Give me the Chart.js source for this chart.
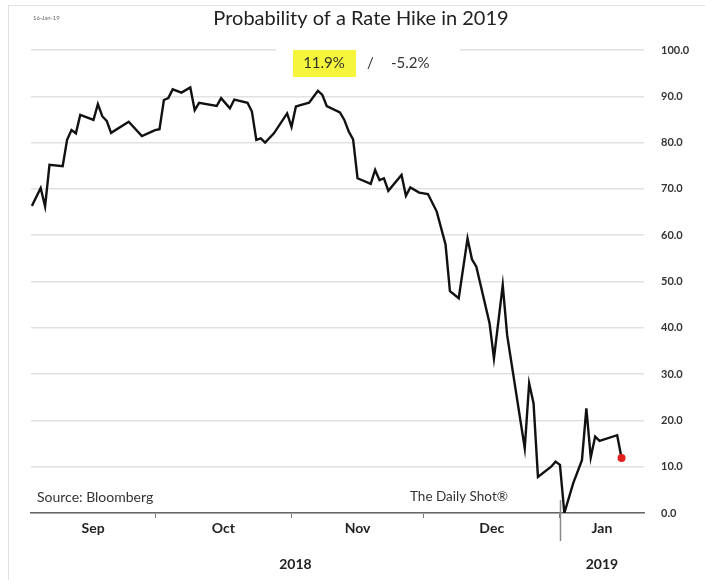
<!DOCTYPE html>
<html>
<head>
<meta charset="utf-8">
<script src="https://cdn.jsdelivr.net/npm/chart.js@4.4.1/dist/chart.umd.min.js"></script>
<style>
  html, body { margin: 0; padding: 0; background: #fff; }
  #wrap { width: 705px; height: 580px; }
</style>
</head>
<body>
<div id="wrap"><canvas id="hikeChart" width="705" height="580"></canvas></div>
<script>
// Probability of a Fed hike in 2019 (Bloomberg)
const dates = [
  '2018-09-03','2018-09-05','2018-09-06','2018-09-07','2018-09-10','2018-09-11','2018-09-12','2018-09-13',
  '2018-09-14','2018-09-17','2018-09-18','2018-09-19','2018-09-20','2018-09-21','2018-09-25','2018-09-28',
  '2018-10-01','2018-10-02','2018-10-03','2018-10-04','2018-10-05','2018-10-07','2018-10-09','2018-10-10',
  '2018-10-11','2018-10-15','2018-10-16','2018-10-18','2018-10-19','2018-10-22','2018-10-23','2018-10-24',
  '2018-10-25','2018-10-26','2018-10-28','2018-10-31',
  '2018-11-01','2018-11-02','2018-11-03','2018-11-05','2018-11-07','2018-11-08','2018-11-09','2018-11-12',
  '2018-11-13','2018-11-14','2018-11-15','2018-11-16','2018-11-19','2018-11-20','2018-11-21','2018-11-22',
  '2018-11-23','2018-11-26','2018-11-27','2018-11-28','2018-11-30',
  '2018-12-02','2018-12-04','2018-12-06','2018-12-07','2018-12-09','2018-12-11','2018-12-12','2018-12-13',
  '2018-12-16','2018-12-17','2018-12-19','2018-12-20','2018-12-24','2018-12-25','2018-12-26','2018-12-27',
  '2018-12-30','2018-12-31',
  '2019-01-01','2019-01-02','2019-01-04','2019-01-06','2019-01-07','2019-01-08','2019-01-09','2019-01-10',
  '2019-01-14','2019-01-15'
];
const probs = [
  66.3, 70.2, 66.2, 75.2, 74.9, 80.6, 82.7, 82.0, 86.0, 84.9, 88.3, 85.7, 84.7, 82.1, 84.5, 81.4,
  82.7, 82.9, 89.2, 89.6, 91.5, 90.8, 91.9, 87.0, 88.6, 87.9, 89.6, 87.4, 89.3, 88.6, 86.7, 80.6,
  80.9, 80.0, 82.0, 86.3,
  83.4, 87.8, 88.1, 88.6, 91.2, 90.3, 87.9, 86.5, 84.9, 82.4, 80.7, 72.3, 71.1, 74.1, 71.9, 72.3,
  69.6, 73.0, 68.5, 70.3, 69.2,
  68.9, 65.1, 58.0, 47.9, 46.4, 59.3, 54.8, 53.2, 41.0, 33.4, 49.2, 38.4, 14.0, 28.0, 23.7, 7.8,
  10.0, 11.1,
  10.4, 0.0, 6.4, 11.4, 22.6, 12.0, 16.5, 15.6, 16.8, 11.9
];
const monthNames = ['Sep', 'Oct', 'Nov', 'Dec', 'Jan'];
const monthStarts = ['2018-09-01', '2018-10-01', '2018-11-01', '2018-12-01', '2019-01-01'];
const yearNames = ['2018', '2019'];
const yTicks = [0, 10, 20, 30, 40, 50, 60, 70, 80, 90, 100];

const latestLabel = '11.9%';
const changeLabel = '-5.2%';

// days since 1 Sep 2018
const dayOf = s => (Date.parse(s) - Date.parse('2018-09-01')) / 86400000;

const xMin = 1.8, xMax = 141.1;
const bounds = monthStarts.map(dayOf);
const edges = bounds.map(b => Math.max(b, xMin)).concat([xMax]);
const monthMids = monthNames.map((m, i) => (edges[i] + edges[i + 1]) / 2);
const yearBreak = bounds[4];
const yearMids = [(xMin + yearBreak) / 2, (yearBreak + xMax) / 2];

const points = dates.map((d, i) => ({ x: dayOf(d), y: probs[i] }));
const lastIdx = points.length - 1;

const FONT = 'Lato, "Open Sans", sans-serif';

const extras = {
  id: 'extras',
  afterDraw(chart) {
    const ctx = chart.ctx;
    const xs = chart.scales.x;
    ctx.save();

    // faint frame
    ctx.strokeStyle = '#e2e2e2';
    ctx.lineWidth = 1;
    ctx.strokeRect(8.5, 5.5, 720, 600);

    // date stamp
    ctx.fillStyle = '#666';
    ctx.font = '6px ' + FONT;
    ctx.textBaseline = 'middle';
    ctx.textAlign = 'left';
    ctx.fillText('16-Jan-19', 33, 18);

    // title
    ctx.fillStyle = '#222';
    ctx.font = '20px ' + FONT;
    ctx.textAlign = 'center';
    ctx.fillText('Probability of a Rate Hike in 2019', 361, 19);

    // latest value box
    ctx.fillStyle = '#fff';
    ctx.fillRect(276, 40, 184, 38);
    ctx.fillStyle = '#f5f53c';
    ctx.fillRect(293, 50, 63, 27);
    ctx.fillStyle = '#333';
    ctx.font = '15px ' + FONT;
    ctx.fillText(latestLabel, 324, 63);
    ctx.textAlign = 'left';
    ctx.fillText('/', 367, 63);
    ctx.fillText(changeLabel, 391, 63);

    // source notes
    ctx.font = '14px ' + FONT;
    ctx.fillStyle = '#333';
    ctx.fillText('Source: Bloomberg', 37, 497);
    ctx.font = '13.5px ' + FONT;
    ctx.fillText('The Daily Shot\u00AE', 410, 497);

    // year divider
    const px = Math.round(xs.getPixelForValue(yearBreak)) + 0.5;
    ctx.strokeStyle = '#888';
    ctx.lineWidth = 1.5;
    ctx.beginPath();
    ctx.moveTo(px, 500);
    ctx.lineTo(px, 541);
    ctx.stroke();

    ctx.restore();
  }
};

new Chart(document.getElementById('hikeChart'), {
  type: 'line',
  data: {
    datasets: [{
      data: points,
      borderColor: '#111',
      borderWidth: 2.4,
      tension: 0,
      pointRadius: c => c.dataIndex === lastIdx ? 4 : 0,
      pointBackgroundColor: '#e3201b',
      pointBorderWidth: 0
    }]
  },
  options: {
    responsive: false,
    animation: false,
    layout: { padding: { left: 31, top: 50, right: 0, bottom: 0 } },
    plugins: {
      legend: { display: false },
      tooltip: { enabled: false }
    },
    scales: {
      x: {
        type: 'linear',
        position: 'bottom',
        min: xMin,
        max: xMax,
        weight: 0,
        afterBuildTicks: s => {
          const t = bounds.slice(1).map(v => ({ value: v, edge: true }))
            .concat(monthMids.map((v, i) => ({ value: v, label: monthNames[i] })));
          t.sort((a, b) => a.value - b.value);
          s.ticks = t;
        },
        afterFit: s => { s.height = 32; },
        grid: {
          drawOnChartArea: false,
          tickLength: 5,
          tickColor: c => (c.tick && c.tick.edge) ? '#777' : 'rgba(0,0,0,0)'
        },
        border: { display: true, color: '#666', width: 1.5 },
        ticks: {
          autoSkip: false,
          maxRotation: 0,
          padding: 2,
          color: '#222',
          font: { family: FONT, size: 14, weight: 'bold' },
          callback: (v, i, t) => t[i].label || ''
        }
      },
      year: {
        type: 'linear',
        axis: 'x',
        position: 'bottom',
        min: xMin,
        max: xMax,
        weight: 1,
        afterBuildTicks: s => {
          s.ticks = yearMids.map((v, i) => ({ value: v, label: yearNames[i] }));
        },
        afterFit: s => { s.height = 35; },
        grid: { display: false, drawTicks: false },
        border: { display: false },
        ticks: {
          autoSkip: false,
          maxRotation: 0,
          padding: 11,
          color: '#222',
          font: { family: FONT, size: 14, weight: 'bold' },
          callback: (v, i, t) => t[i].label || ''
        }
      },
      y: {
        position: 'right',
        min: 0,
        max: 100,
        afterBuildTicks: s => { s.ticks = yTicks.map(v => ({ value: v })); },
        afterFit: s => { s.width = 61; },
        grid: { color: '#e2e2e2', lineWidth: 1.5, drawTicks: false },
        border: { display: false },
        ticks: {
          padding: 17,
          color: '#333',
          font: { family: FONT, size: 11, weight: 'bold' },
          callback: v => v.toFixed(1)
        }
      }
    }
  },
  plugins: [extras]
});
</script>
</body>
</html>
